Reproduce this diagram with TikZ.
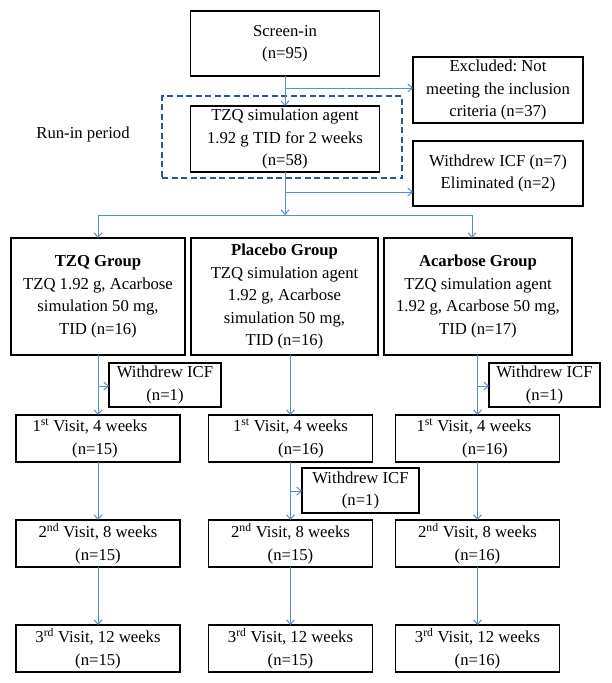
\documentclass[tikz,border=0pt]{standalone}
\usepackage{fontspec}
\setmainfont{Liberation Serif}
\usetikzlibrary{arrows.meta}
\frenchspacing
\definecolor{conncol}{RGB}{85,142,213}
\definecolor{dashblue}{RGB}{47,85,151}
\tikzset{
  box/.style={draw=black, line width=1.3pt, inner sep=0pt, outer sep=0pt, align=center,
    font=\fontsize{16.7}{22.5}\selectfont},
  plain/.style={inner sep=0pt, font=\fontsize{16.7}{22.5}\selectfont},
  dbox/.style={draw=dashblue, line width=2.5pt, dash pattern=on 6pt off 3.5pt, inner sep=0pt, outer sep=0pt},
  vbox/.style={box, minimum width=164pt, minimum height=47pt},
  wbox/.style={box, minimum height=44pt},
  conn/.style={draw=conncol, line width=1pt},
  arr/.style={conn, -{Straight Barb[length=4.5pt,width=8pt]}}
}
\begin{document}
\begin{tikzpicture}[x=1pt,y=-1pt]
\useasboundingbox (0,0) rectangle (611,683);
% top part
\node[box, minimum width=189pt, minimum height=65pt] (screen) at (285,43.5) {Screen-in\\(n=95)};
\node[box, minimum width=170pt, minimum height=66pt] (excl) at (498,90) {Excluded: Not\\meeting the inclusion\\criteria (n=37)};
\node[dbox, minimum width=240pt, minimum height=82pt] (runbox) at (282,137) {};
\node[box, minimum width=189pt, minimum height=66pt] (sim) at (285,139) {TZQ simulation agent\\1.92 g TID for 2 weeks\\(n=58)};
\node[plain] (runlbl) at (83,134) {Run-in period};
\node[box, minimum width=170pt, minimum height=65pt] (wd) at (498,173.5) {Withdrew ICF (n=7)\\Eliminated (n=2)};
% groups
\node[box, minimum width=174pt, minimum height=117pt] (gA) at (98,296.5) {\textbf{TZQ Group}\\TZQ 1.92 g, Acarbose\\simulation 50 mg,\\TID (n=16)};
\node[box, minimum width=187pt, minimum height=117pt] (gB) at (284.5,296.5) {\textbf{Placebo Group}\\TZQ simulation agent\\1.92 g, Acarbose\\simulation 50 mg,\\TID (n=16)};
\node[box, minimum width=188pt, minimum height=117pt] (gC) at (478,296.5) {\textbf{Acarbose Group}\\TZQ simulation agent\\1.92 g, Acarbose 50 mg,\\TID (n=17)};
% visits
\node[vbox] (vA1) at (98,438.5) {1\textsuperscript{st} Visit, 4 weeks\hspace*{16pt}\\(n=15)\hspace*{6pt}};
\node[vbox] (vB1) at (290.5,438.5) {1\textsuperscript{st} Visit, 4 weeks\\\hspace*{21pt}(n=16)};
\node[vbox] (vC1) at (477.5,438.5) {1\textsuperscript{st} Visit, 4 weeks\hspace*{7pt}\\\hspace*{15pt}(n=16)};
\node[vbox] (vA2) at (98,543.5) {2\textsuperscript{nd} Visit, 8 weeks\\(n=15)};
\node[vbox] (vB2) at (290.5,543.5) {2\textsuperscript{nd} Visit, 8 weeks\\(n=15)};
\node[vbox] (vC2) at (477.5,543.5) {2\textsuperscript{nd} Visit, 8 weeks\\(n=16)};
\node[vbox] (vA3) at (98,648.5) {3\textsuperscript{rd} Visit, 12 weeks\\(n=15)};
\node[vbox] (vB3) at (290.5,648.5) {3\textsuperscript{rd} Visit, 12 weeks\\(n=15)};
\node[vbox] (vC3) at (477.5,648.5) {3\textsuperscript{rd} Visit, 12 weeks\\(n=16)};
% withdrew small boxes
\node[wbox, minimum width=112pt] (wA) at (165,385) {Withdrew ICF\\(n=1)};
\node[wbox, minimum width=117pt, minimum height=45pt] (wB) at (360.5,490.5) {Withdrew ICF\\(n=1)};
\node[wbox, minimum width=111pt] (wC) at (544.5,385) {Withdrew ICF\\(n=1)};
% connectors top
\coordinate (br1) at (285,88);
\coordinate (br2) at (285,192);
\coordinate (hub) at (285,215);
\coordinate (hl) at (98,215);
\coordinate (hr) at (472,215);
\draw[arr] (screen.south) -- (sim.north);
\draw[arr] (br1) -- (br1 -| excl.west);
\draw[arr] (sim.south) -- (hub);
\draw[arr] (br2) -- (br2 -| wd.west);
\draw[conn] (hl) -- (hr);
\draw[arr] (hl) -- (hl |- gA.north);
\draw[arr] (hr) -- (hr |- gC.north);
% column A
\coordinate (wa) at (98,386);
\draw[arr] (gA.south) -- (vA1.north);
\draw[arr] (wa) -- (wa -| wA.west);
\draw[arr] (vA1.south) -- (vA2.north);
\draw[arr] (vA2.south) -- (vA3.north);
% column B
\coordinate (wb) at (290.5,491);
\draw[arr] (vB1.north |- gB.south) -- (vB1.north);
\draw[arr] (vB1.south) -- (vB2.north);
\draw[arr] (wb) -- (wb -| wB.west);
\draw[arr] (vB2.south) -- (vB3.north);
% column C
\coordinate (wc) at (477.5,386);
\draw[arr] (vC1.north |- gC.south) -- (vC1.north);
\draw[arr] (wc) -- (wc -| wC.west);
\draw[arr] (vC1.south) -- (vC2.north);
\draw[arr] (vC2.south) -- (vC3.north);
\end{tikzpicture}
\end{document}
